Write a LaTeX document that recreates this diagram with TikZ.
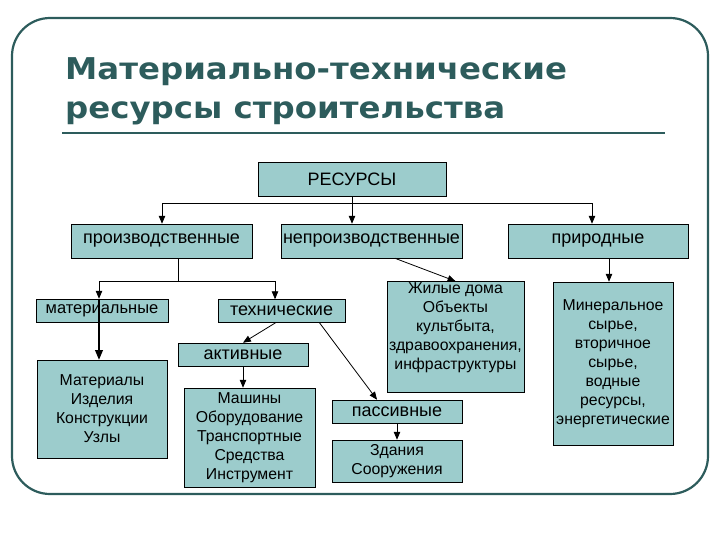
\documentclass[tikz,border=0pt]{standalone}
\usepackage{fontspec}
\setmainfont{Liberation Sans}
\newfontfamily\titlefont[FakeStretch=1.08]{DejaVu Sans}
\usepackage{tikz}
\usetikzlibrary{arrows}
\definecolor{slate}{RGB}{45,92,92}
\definecolor{boxfill}{RGB}{156,204,204}

\begin{document}
\begin{tikzpicture}[x=1pt,y=1pt,yscale=-1,xscale=1,
  box/.style={draw=black,fill=boxfill,line width=0.6pt,inner sep=1pt,align=center},
  big/.style={font=\fontsize{18}{20}\selectfont},
  mid/.style={font=\fontsize{16.5}{20}\selectfont},
  small/.style={font=\fontsize{15.8}{19}\selectfont},
  arr/.style={-triangle 45,line width=0.8pt}]
\useasboundingbox (0,0) rectangle (720,540);

% frame and title
\draw[slate,line width=2.2pt,rounded corners=38pt] (12,18) rectangle (708,494);
\node[anchor=north west,inner sep=0pt,align=left,text=slate,
  font=\fontsize{30}{39}\titlefont\bfseries] (title) at (65,57)
  {Материально-технические\\ресурсы строительства};
\draw[slate,line width=2.4pt] (62,133) -- (665,133);

% first level
\node[box,big,minimum width=188,minimum height=34] (res) at (352,179) {РЕСУРСЫ};
\node[box,big,minimum width=181,minimum height=34] (prod) at (161.5,241) {производственные};
\node[box,big,minimum width=181,minimum height=34] (neprod) at (371.5,241) {непроизводственные};
\node[box,big,minimum width=180,minimum height=34] (prir) at (598,241) {природные};

% second level
\node[box,mid,minimum width=132,minimum height=23] (mat) at (102,310.5) {материальные};
\node[box,big,minimum width=127,minimum height=23] (tech) at (281.5,311) {технические};
\node[box,big,minimum width=130,minimum height=23] (akt) at (243,354.5) {активные};
\node[box,big,minimum width=130,minimum height=23] (pass) at (397,411.5) {пассивные};

% lists
\node[box,small,minimum width=130,minimum height=98] (matlist) at (102,409)
  {Материалы\\Изделия\\Конструкции\\Узлы};
\node[box,small,minimum width=131,minimum height=99] (mashlist) at (249.5,437.5)
  {Машины\\Оборудование\\Транспортные\\Средства\\Инструмент};
\node[box,small,minimum width=137,minimum height=111] (zhillist) at (455.5,337)
  {Жилые дома\\Объекты\\культбыта,\\здравоохранения,\\инфраструктуры\\[2pt]~};
\node[box,small,minimum width=120,minimum height=163] (minlist) at (613,363.5)
  {Минеральное\\сырье,\\вторичное\\сырье,\\водные\\ресурсы,\\энергетические};
\node[box,small,minimum width=130,minimum height=42] (zdanlist) at (397,461)
  {Здания\\Сооружения};

% connectors
\coordinate (resj) at (352,203);
\coordinate (prodj) at (178,281);
\draw[line width=0.8pt] (res.south) -- (resj);
\draw[arr] (resj) -| ([xshift=0.5pt]prod.north);
\draw[arr] (resj) -- (resj |- neprod.north);
\draw[arr] (resj) -| ([xshift=-6pt]prir.north);
\draw[line width=0.8pt] (prodj |- prod.south) -- (prodj);
\draw[arr] (prodj) -| ([xshift=-3pt]mat.north);
\draw[arr] (prodj) -| ([xshift=-6.5pt]tech.north);
\draw[arr,line width=1.2pt] ([xshift=-3pt]mat.north) -- ([xshift=-3pt]matlist.north);
\draw[arr] ([xshift=-6pt]tech.south) -- (akt.north);
\draw[arr] ([xshift=38pt]tech.south) -- ([xshift=-20pt]pass.north);
\draw[arr] (akt.south) -- (akt.south |- mashlist.north);
\draw[arr] ([xshift=23.5pt]neprod.south) -- (zhillist.north);
\draw[arr] ([xshift=-4pt]minlist.north |- prir.south) -- ([xshift=-4pt]minlist.north);
\draw[arr] (pass.south) -- (zdanlist.north);
\end{tikzpicture}
\end{document}
